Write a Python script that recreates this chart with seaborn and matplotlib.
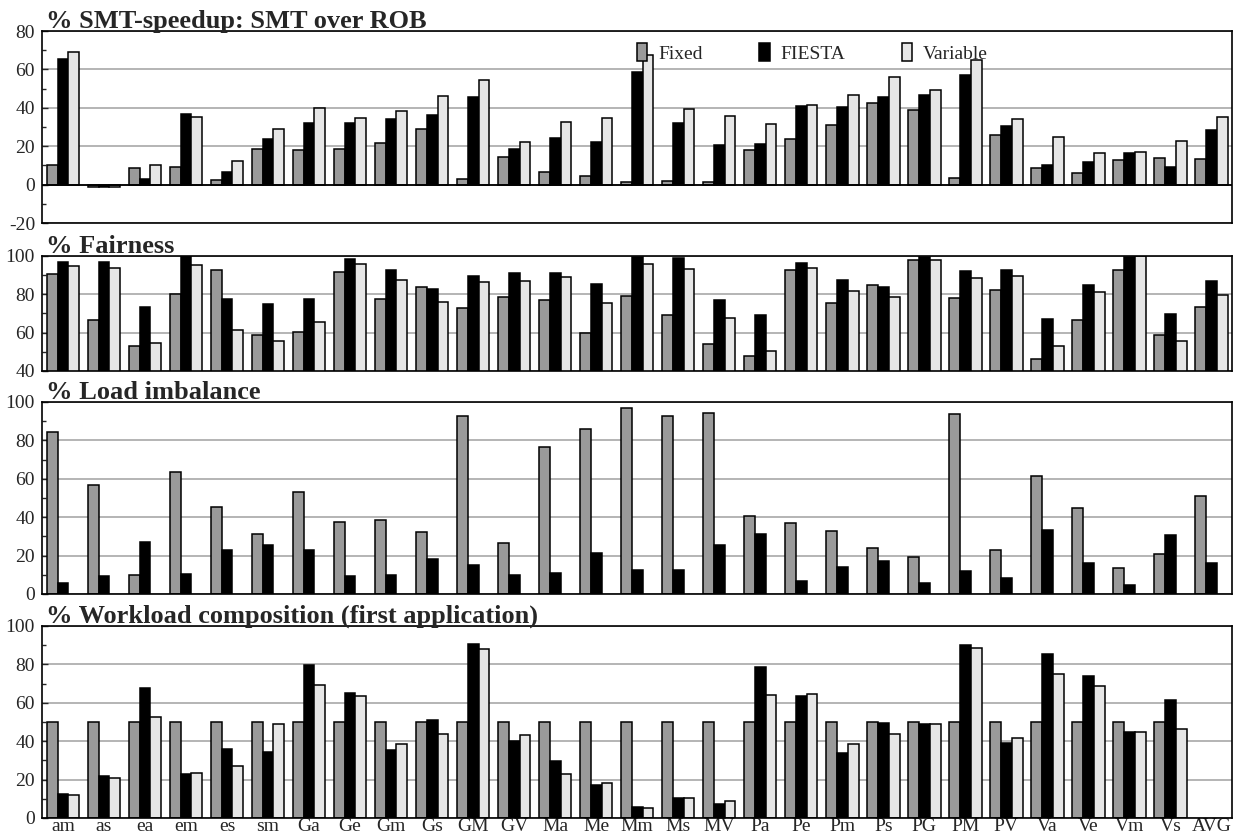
import numpy as np
import pandas as pd
import seaborn as sns
import matplotlib.pyplot as plt
from matplotlib.ticker import MultipleLocator

categories = ["am", "as", "ea", "em", "es", "sm", "Ga", "Ge", "Gm", "Gs", "GM", "GV",
              "Ma", "Me", "Mm", "Ms", "MV", "Pa", "Pe", "Pm", "Ps", "PG", "PM", "PV",
              "Va", "Ve", "Vm", "Vs", "AVG"]
schemes = ["Fixed", "FIESTA", "Variable"]

# % SMT-speedup: SMT over ROB
speedup_fixed = [10.4, -1.0, 8.7, 9.0, 2.4, 18.4, 17.9, 18.6, 21.5, 29.0, 3.1, 14.4, 6.6, 4.3,
                 1.6, 2.1, 1.4, 18.1, 23.8, 31.0, 42.6, 39.0, 3.3, 25.7, 8.7, 5.9, 13.0, 13.7, 13.4]
speedup_fiesta = [65.5, -1.3, 3.1, 37.0, 6.6, 23.5, 32.3, 32.3, 34.4, 36.5, 45.5, 18.8, 24.3, 22.3,
                  58.4, 32.0, 20.5, 21.4, 40.7, 40.2, 45.4, 46.6, 56.9, 30.6, 10.1, 12.0, 16.2, 9.4, 28.2]
speedup_variable = [69.0, -1.0, 10.1, 35.3, 12.4, 28.9, 40.0, 34.8, 38.3, 46.0, 54.6, 22.3, 32.5, 34.8,
                    67.3, 39.5, 35.8, 31.8, 41.6, 46.6, 56.2, 49.4, 64.9, 34.1, 24.7, 16.3, 17.1, 22.6, 35.0]

# % Fairness
fair_fixed = [90.8, 66.8, 53.0, 80.2, 92.5, 58.8, 60.3, 91.8, 77.6, 83.7, 73.0, 78.6, 76.9, 60.0,
              79.3, 69.0, 54.1, 47.8, 92.7, 75.5, 84.7, 97.7, 78.3, 82.4, 46.3, 66.6, 92.9, 58.8, 73.4]
fair_fiesta = [96.9, 96.9, 73.4, 100.0, 77.6, 75.1, 77.5, 98.6, 92.5, 82.8, 89.6, 91.1, 91.1, 85.6,
               99.3, 99.0, 77.2, 69.4, 96.5, 87.5, 83.8, 99.3, 92.0, 92.5, 67.3, 84.7, 99.7, 69.9, 87.1]
fair_variable = [94.6, 93.9, 54.6, 95.3, 61.2, 55.5, 65.5, 95.7, 87.7, 76.2, 86.3, 86.8, 89.2, 75.3,
                 95.7, 93.2, 67.7, 50.6, 93.9, 81.6, 78.8, 98.1, 88.5, 89.7, 52.9, 81.4, 100.0, 55.7, 79.5]

# % Load imbalance (no Variable series)
imb_fixed = [84.3, 56.9, 9.9, 63.3, 45.4, 31.0, 52.9, 37.7, 38.6, 32.2, 92.9, 26.6, 76.7, 85.7,
             96.9, 92.7, 94.3, 40.7, 37.2, 33.0, 24.2, 19.3, 93.6, 23.1, 61.7, 44.7, 13.4, 20.7, 51.1]
imb_fiesta = [5.7, 9.4, 27.3, 10.3, 23.1, 25.6, 22.8, 9.4, 9.7, 18.4, 15.1, 9.7, 11.0, 21.6,
              12.3, 12.5, 25.4, 31.3, 7.0, 14.3, 17.0, 5.6, 11.8, 8.5, 33.4, 16.3, 4.7, 30.6, 16.0]
imb_variable = [None] * len(categories)

# % Workload composition (first application); no bars for AVG
comp_fixed = [50] * 28 + [None]
comp_fiesta = [12.7, 21.7, 67.6, 22.9, 36.0, 34.3, 79.5, 65.2, 35.4, 51.1, 90.5, 40.2, 29.5, 17.0,
               5.9, 10.2, 7.1, 78.5, 63.8, 34.1, 49.7, 48.9, 90.0, 39.0, 85.4, 73.8, 45.0, 61.4, None]
comp_variable = [11.8, 20.6, 52.5, 23.4, 27.2, 49.0, 69.3, 63.4, 38.3, 43.8, 88.2, 43.2, 23.0, 18.4,
                 5.2, 10.2, 9.0, 64.3, 64.5, 38.5, 43.8, 49.0, 88.6, 41.6, 75.0, 68.5, 44.7, 46.6, None]


def long_frame(fixed, fiesta, variable):
    rows = []
    for scheme, vals in zip(schemes, (fixed, fiesta, variable)):
        for cat, v in zip(categories, vals):
            if v is not None:
                rows.append({"bench": cat, "scheme": scheme, "value": v})
    return pd.DataFrame(rows)


panels = [
    ("% SMT-speedup: SMT over ROB", long_frame(speedup_fixed, speedup_fiesta, speedup_variable),
     (-20, 80), (31, 223)),
    ("% Fairness", long_frame(fair_fixed, fair_fiesta, fair_variable), (40, 100), (256, 371)),
    ("% Load imbalance", long_frame(imb_fixed, imb_fiesta, imb_variable), (0, 100), (402, 594)),
    ("% Workload composition (first application)", long_frame(comp_fixed, comp_fiesta, comp_variable),
     (0, 100), (626, 818)),
]

sns.set_theme(style="white")
plt.rcParams["font.family"] = ["Liberation Serif", "DejaVu Serif"]
plt.rcParams["axes.unicode_minus"] = False

palette = {"Fixed": "#9a9a9a", "FIESTA": "#000000", "Variable": "#e6e6e6"}
W, H = 1239, 834
fig = plt.figure(figsize=(W / 100, H / 100), dpi=100)

for i, (title, df, ylim, (top_px, bot_px)) in enumerate(panels):
    ax = fig.add_axes([42 / W, (H - bot_px) / H, 1190 / W, (bot_px - top_px) / H])
    sns.barplot(data=df, x="bench", y="value", hue="scheme", order=categories,
                hue_order=schemes, palette=palette, saturation=1, width=0.79,
                edgecolor="black", linewidth=1.1, errorbar=None, legend=(i == 0), ax=ax)
    ax.set_xlim(-0.51, len(categories) - 0.5)
    ax.set_ylim(*ylim)
    ax.yaxis.set_major_locator(MultipleLocator(20))
    ax.yaxis.set_minor_locator(MultipleLocator(10))
    ax.yaxis.grid(True, which="major", color="#b4b4b4", linewidth=1.4)
    ax.set_axisbelow(True)
    if ylim[0] < 0:
        ax.axhline(0, color="black", linewidth=1.3, zorder=1.5)
    for sp in ax.spines.values():
        sp.set_color("black")
        sp.set_linewidth(1.2)
    ax.tick_params(axis="y", which="major", direction="in", length=4, width=1,
                   labelsize=14, pad=5, left=True)
    ax.tick_params(axis="y", which="minor", direction="in", length=3, width=1, left=True)
    ax.set_xlabel("")
    ax.set_ylabel("")
    if i < len(panels) - 1:
        ax.tick_params(axis="x", length=0, labelbottom=False)
    else:
        ax.tick_params(axis="x", length=0, labelsize=14, pad=0)
    ax.annotate(title, xy=(0, 1), xycoords="axes fraction", xytext=(4, 3),
                textcoords="offset pixels", ha="left", va="baseline",
                fontsize=19, fontweight="bold")
    if i == 0:
        sns.move_legend(ax, "upper left", bbox_to_anchor=(0.49, 1.0), ncol=3, frameon=False,
                        title=None, fontsize=14, handlelength=0.55, handleheight=1.1,
                        handletextpad=0.55, columnspacing=2.9, borderaxespad=0.2)

fig.savefig("out.png", dpi=100)
